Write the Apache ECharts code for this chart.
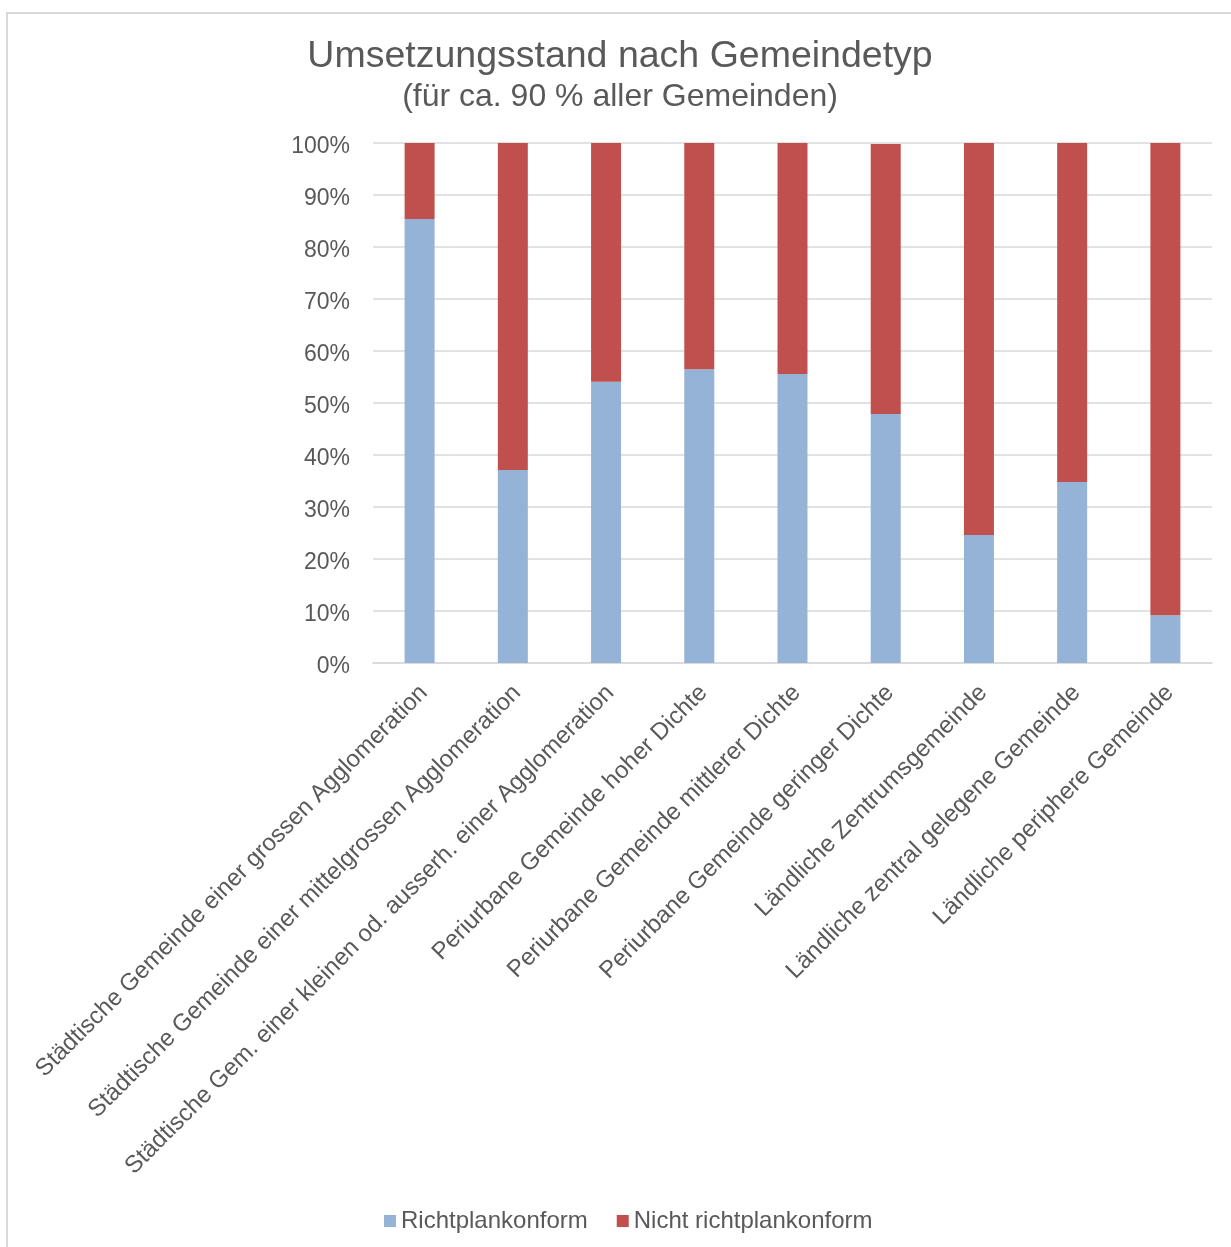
<!DOCTYPE html>
<html>
<head>
<meta charset="utf-8">
<script src="https://cdn.jsdelivr.net/npm/echarts@6/dist/echarts.min.js"></script>
<style>
  html, body { margin: 0; padding: 0; background: #fff; }
  #umsetzungChart { width: 1231px; height: 1247px; }
</style>
</head>
<body>
<div id="umsetzungChart"></div>
<script>
const categories = [
  'Städtische Gemeinde einer grossen Agglomeration',
  'Städtische Gemeinde einer mittelgrossen Agglomeration',
  'Städtische Gem. einer kleinen od. ausserh. einer Agglomeration',
  'Periurbane Gemeinde hoher Dichte',
  'Periurbane Gemeinde mittlerer Dichte',
  'Periurbane Gemeinde geringer Dichte',
  'Ländliche Zentrumsgemeinde',
  'Ländliche zentral gelegene Gemeinde',
  'Ländliche periphere Gemeinde',
]
const konform = [85.4, 37.1, 54.1, 56.5, 55.6, 47.9, 24.6, 34.8, 9.2]
const nichtKonform = [14.6, 62.9, 45.9, 43.5, 44.4, 51.9, 75.4, 65.2, 90.8]

const textColor = '#595959'
const font = 'Liberation Sans, Arial, sans-serif'

const myChart = echarts.init(document.getElementById('umsetzungChart'))
const option = {
  backgroundColor: '#fff',
  textStyle: { fontFamily: font },
  title: [
    {
      text: 'Umsetzungsstand nach Gemeindetyp',
      left: 615,
      top: 33,
      textAlign: 'center',
      textStyle: { fontSize: 37.5, fontWeight: 'normal', color: textColor, fontFamily: font },
    },
    {
      text: '(für ca. 90 % aller Gemeinden)',
      left: 615,
      top: 76,
      textAlign: 'center',
      textStyle: { fontSize: 32, fontWeight: 'normal', color: textColor, fontFamily: font },
    },
  ],
  legend: {
    data: ['Richtplankonform', 'Nicht richtplankonform'],
    left: 384,
    top: 1209,
    padding: 0,
    icon: 'rect',
    itemWidth: 12,
    itemHeight: 12,
    itemGap: 29,
    textStyle: { fontSize: 24, color: textColor, fontFamily: font },
  },
  grid: {
    left: 373,
    right: 19,
    top: 143,
    bottom: 584,
    containLabel: false,
    outerBoundsMode: 'none',
  },
  xAxis: {
    type: 'category',
    data: categories,
    axisTick: { show: false },
    axisLine: { lineStyle: { color: '#d9d9d9', width: 1.5 } },
    axisLabel: {
      interval: 0,
      rotate: 45,
      margin: 22,
      formatter: (v) => '{c|' + v + '}',
      rich: {
        c: { fontSize: 24, color: textColor, fontFamily: font, padding: [12, 0, 0, 0] },
      },
    },
  },
  yAxis: {
    type: 'value',
    min: 0,
    max: 100,
    interval: 10,
    axisLine: { show: false },
    axisTick: { show: false },
    splitLine: { lineStyle: { color: '#d9d9d9', width: 1.5 } },
    axisLabel: {
      margin: 23,
      formatter: (v) => '{p|' + v + '%}',
      rich: {
        p: { fontSize: 23, color: textColor, fontFamily: font, padding: [8, 0, 0, 0] },
      },
    },
  },
  series: [
    {
      name: 'Richtplankonform',
      type: 'bar',
      stack: 'total',
      data: konform,
      barWidth: 30,
      itemStyle: { color: '#95b3d7' },
    },
    {
      name: 'Nicht richtplankonform',
      type: 'bar',
      stack: 'total',
      data: nichtKonform,
      barWidth: 30,
      itemStyle: { color: '#c0504d' },
    },
  ],
  // chart frame (only top and left edge visible in the crop)
  graphic: [
    { type: 'line', shape: { x1: 6, y1: 13, x2: 1231, y2: 13 }, style: { stroke: '#d9d9d9', lineWidth: 2 } },
    { type: 'line', shape: { x1: 7, y1: 12, x2: 7, y2: 1247 }, style: { stroke: '#d9d9d9', lineWidth: 2 } },
  ],
}

myChart.setOption(option)
</script>
</body>
</html>
